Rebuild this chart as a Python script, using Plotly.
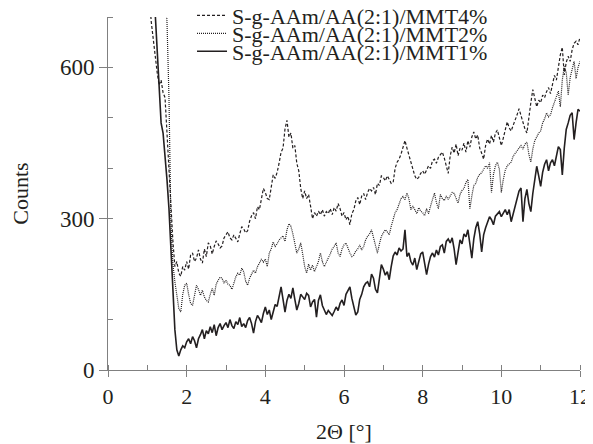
import numpy as np
import plotly.graph_objects as go

# 2-theta sampling grid (deg), 0.05 step
two_theta = np.round(np.arange(1.0, 12.001, 0.05), 2)

# counts, one row per degree
mmt4 = [
    900, 740, 690, 655, 625, 590, 565, 575, 550, 540, 470, 390, 310, 255, 205, 215, 192, 186, 205, 198,
    215, 200, 228, 232, 215, 222, 238, 220, 212, 240, 225, 252, 246, 230, 245, 256, 250, 242, 246, 262,
    268, 274, 262, 258, 268, 260, 254, 270, 284, 280, 272, 276, 295, 306, 312, 300, 324, 318, 340, 360,
    352, 340, 338, 362, 387, 380, 392, 410, 432, 440, 478, 495, 462, 470, 440, 445, 410, 395, 360, 340,
    355, 340, 348, 325, 300, 312, 305, 315, 308, 318, 305, 314, 310, 320, 308, 322, 315, 330, 320, 305,
    312, 298, 305, 288, 310, 318, 335, 342, 328, 345, 350, 338, 352, 360, 355, 362, 348, 370, 366, 385,
    382, 375, 385, 378, 370, 372, 400, 412, 418, 428, 440, 455, 440, 425, 410, 398, 385, 378, 382, 390,
    395, 388, 396, 405, 400, 415, 418, 410, 422, 428, 432, 420, 405, 390, 425, 442, 430, 448, 425, 440,
    436, 450, 432, 455, 442, 462, 472, 458, 466, 440, 430, 418, 445, 458, 448, 465, 452, 470, 476, 462,
    445, 460, 478, 492, 480, 474, 485, 498, 506, 518, 505, 488, 478, 470, 505, 530, 556, 540, 522, 535,
    530, 545, 540, 552, 560, 548, 570, 584, 575, 605, 625, 640, 585, 610, 622, 612, 635, 648, 652, 645,
    660,
]
mmt2 = [
    1200, 1150, 1100, 1050, 1000, 950, 900, 850, 800, 760, 690, 540, 290, 210, 175, 150, 122, 115, 150, 168,
    172, 150, 132, 128, 150, 168, 160, 148, 158, 145, 138, 135, 150, 162, 148, 170, 178, 184, 182, 172,
    178, 170, 168, 160, 172, 185, 192, 188, 202, 195, 176, 168, 182, 190, 198, 192, 205, 212, 220, 214,
    220, 205, 232, 240, 254, 245, 250, 258, 262, 266, 255, 278, 290, 285, 270, 250, 232, 240, 252, 230,
    205, 192, 210, 198, 208, 195, 204, 215, 232, 215, 205, 212, 222, 230, 240, 245, 252, 232, 225, 240,
    248, 252, 240, 232, 225, 228, 236, 240, 248, 238, 245, 258, 265, 270, 278, 262, 245, 232, 250, 265,
    272, 278, 274, 268, 285, 298, 312, 318, 330, 340, 344, 338, 351, 340, 318, 325, 318, 310, 322, 315,
    312, 306, 320, 310, 325, 340, 351, 332, 320, 348, 340, 336, 345, 338, 346, 352, 350, 342, 331, 348,
    356, 360, 372, 378, 320, 345, 366, 370, 382, 388, 391, 398, 405, 400, 411, 352, 388, 405, 412, 398,
    352, 378, 396, 405, 408, 412, 424, 430, 436, 440, 445, 438, 448, 452, 428, 412, 438, 455, 462, 470,
    474, 490, 498, 510, 502, 506, 520, 532, 545, 553, 522, 575, 602, 590, 545, 580, 596, 612, 578, 600,
    612,
]
mmt1 = [
    1100, 950, 860, 780, 712, 620, 560, 490, 470, 430, 377, 320, 240, 153, 80, 40, 28, 40, 48, 44,
    56, 62, 52, 66, 58, 44, 62, 70, 80, 62, 78, 72, 86, 74, 90, 68, 84, 92, 80, 88,
    94, 84, 100, 88, 82, 96, 90, 104, 86, 92, 84, 98, 104, 92, 73, 96, 108, 102, 94, 112,
    125, 110, 119, 100, 118, 130, 126, 148, 165, 140, 115, 138, 150, 142, 163, 140, 119, 132, 150, 145,
    140, 152, 148, 125, 135, 140, 105, 138, 149, 128, 119, 110, 118, 113, 108, 116, 125, 118, 132, 139,
    128, 150, 158, 165, 142, 122, 109, 115, 140, 150, 165, 172, 175, 165, 190, 182, 160, 153, 185, 209,
    200, 188, 195, 179, 205, 226, 234, 228, 242, 236, 240, 278, 225, 232, 215, 208, 222, 199, 215, 230,
    234, 210, 189, 210, 225, 232, 224, 238, 228, 245, 248, 232, 255, 260, 252, 262, 240, 209, 238, 258,
    250, 270, 264, 278, 250, 222, 260, 282, 294, 270, 234, 268, 282, 292, 304, 298, 288, 305, 310, 314,
    304, 312, 318, 308, 318, 294, 310, 325, 340, 355, 361, 294, 340, 358, 330, 314, 350, 380, 404, 385,
    364, 392, 408, 417, 395, 411, 417, 405, 425, 443, 437, 387, 440, 477, 490, 505, 510, 457, 490, 517,
    513,
]

names = ["S-g-AAm/AA(2:1)/MMT4%", "S-g-AAm/AA(2:1)/MMT2%", "S-g-AAm/AA(2:1)/MMT1%"]
ink = "#231f20"
axis_grey = "#808080"
serif = "Liberation Serif"

fig = go.Figure()
fig.add_trace(go.Scatter(x=two_theta, y=mmt4, name=names[0], mode="lines", legend="legend",
                         line=dict(color=ink, width=1.2, dash="3px,2px")))
fig.add_trace(go.Scatter(x=two_theta, y=mmt2, name=names[1], mode="lines", legend="legend2",
                         line=dict(color=ink, width=1.2, dash="1px,1px")))
fig.add_trace(go.Scatter(x=two_theta, y=mmt1, name=names[2], mode="lines", legend="legend3",
                         line=dict(color=ink, width=1.6)))

# one legend per entry so the rows can sit as tight as in the original
leg = dict(x=0.178, xanchor="left", yanchor="middle", bgcolor="rgba(0,0,0,0)",
           font=dict(family=serif, size=22, color=ink), itemwidth=30)
# page body keeps its default 8px margin, so the figure is 8px smaller than the window
fig.update_layout(
    width=585, height=436,
    margin=dict(l=100, r=13, t=9, b=74, autoexpand=False),
    paper_bgcolor="white", plot_bgcolor="white",
    font=dict(family=serif, size=22, color=ink),
    showlegend=True,
    legend=dict(leg, y=1.0042),
    legend2=dict(leg, y=0.9533),
    legend3=dict(leg, y=0.9023),
)
fig.update_xaxes(
    range=[0, 12], tickvals=[0, 2, 4, 6, 8, 10, 12],
    showline=True, linecolor=axis_grey, linewidth=1, showgrid=False, zeroline=False,
    ticks="outside", ticklen=6, tickcolor=axis_grey, ticklabelstandoff=1,
    minor=dict(dtick=1, ticks="inside", ticklen=5, tickcolor=axis_grey, showgrid=False),
    tickfont=dict(family=serif, size=22, color=ink),
    title=dict(text="2Θ [°]", font=dict(family=serif, size=22, color=ink), standoff=19),
)
fig.update_yaxes(
    range=[0, 700], tickvals=[0, 300, 600],
    showline=True, linecolor=axis_grey, linewidth=1, showgrid=False, zeroline=False,
    ticks="outside", ticklen=8, tickcolor=axis_grey,
    minor=dict(dtick=100, ticks="inside", ticklen=5, tickcolor=axis_grey, showgrid=False),
    tickfont=dict(family=serif, size=23, color=ink),
    title=dict(text="Counts", font=dict(family=serif, size=22, color=ink), standoff=26),
)

fig.write_html("out.html")
